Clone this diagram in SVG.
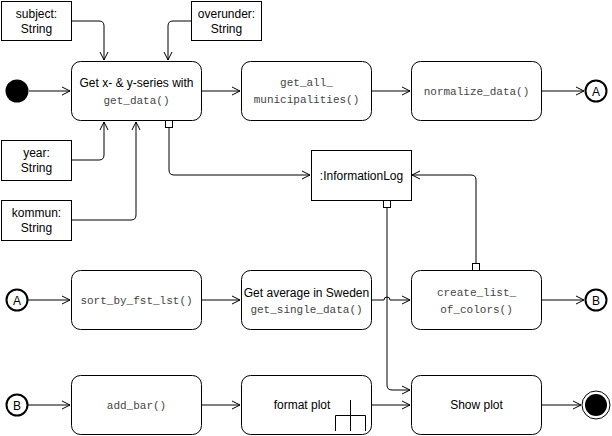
<svg xmlns="http://www.w3.org/2000/svg" width="612" height="436" viewBox="0 0 612 436">
<defs>
<style>
.box{fill:#fff;stroke:#000;stroke-width:1}
.t{font-family:"Liberation Sans",Arial,sans-serif;font-size:12px;fill:#000;text-anchor:middle}
.c{font-family:"Liberation Mono","Courier New",monospace;font-size:11px;fill:#444;text-anchor:middle}
.ct{font-family:"Liberation Sans",Arial,sans-serif;font-size:12px;fill:#000;text-anchor:middle}
.ln{fill:none;stroke:#000;stroke-width:1}
.port{fill:#fff;stroke:#000;stroke-width:1}
</style>
<marker id="arr" viewBox="0 0 10 10" refX="9" refY="5" markerWidth="10" markerHeight="10" markerUnits="userSpaceOnUse" orient="auto">
<path d="M1,1 L9,5 L1,9" fill="none" stroke="#000" stroke-width="1"/>
</marker>
</defs>
<rect width="612" height="436" fill="#fff"/>

<g id="connectors">
<path class="ln" d="M29,91 H70" marker-end="url(#arr)"/>
<path class="ln" d="M201,91 H240" marker-end="url(#arr)"/>
<path class="ln" d="M371,91 H410" marker-end="url(#arr)"/>
<path class="ln" d="M541,91 H584" marker-end="url(#arr)"/>
<path class="ln" d="M71,21 H99 Q104,21 104,26 V60" marker-end="url(#arr)"/>
<path class="ln" d="M191,21 H173 Q168,21 168,26 V60" marker-end="url(#arr)"/>
<path class="ln" d="M71,160 H99 Q104,160 104,155 V122" marker-end="url(#arr)"/>
<path class="ln" d="M71,220 H131 Q136,220 136,215 V122" marker-end="url(#arr)"/>
<path class="ln" d="M169,128 V170 Q169,175 174,175 H310" marker-end="url(#arr)"/>
<path class="ln" d="M476,263 V180 Q476,175 471,175 H412" marker-end="url(#arr)"/>
<path class="ln" d="M387,208 V385 Q387,390 392,390 H410" marker-end="url(#arr)"/>
<path class="ln" d="M28,300 H70" marker-end="url(#arr)"/>
<path class="ln" d="M201,300 H240" marker-end="url(#arr)"/>
<path class="ln" d="M371,300 H384 A3,3 0 0 1 390,300 H410" marker-end="url(#arr)"/>
<path class="ln" d="M541,300 H584" marker-end="url(#arr)"/>
<path class="ln" d="M28,405 H70" marker-end="url(#arr)"/>
<path class="ln" d="M201,405 H240" marker-end="url(#arr)"/>
<path class="ln" d="M371,405 H410" marker-end="url(#arr)"/>
<path class="ln" d="M541,405 H581" marker-end="url(#arr)"/>
</g>

<g id="start"><circle cx="17" cy="91" r="11.5" fill="#000"/></g>
<g id="subject"><rect class="box" x="1.5" y="1.5" width="70" height="39"/><text class="t" x="36.5" y="18">subject:</text><text class="t" x="36.5" y="33">String</text></g>
<g id="overunder"><rect class="box" x="191.5" y="1.5" width="70" height="39"/><text class="t" x="226.5" y="18">overunder:</text><text class="t" x="226.5" y="33">String</text></g>
<g id="year"><rect class="box" x="1.5" y="140.5" width="70" height="40"/><text class="t" x="36.5" y="157">year:</text><text class="t" x="36.5" y="172">String</text></g>
<g id="kommun"><rect class="box" x="1.5" y="200.5" width="70" height="40"/><text class="t" x="36.5" y="217">kommun:</text><text class="t" x="36.5" y="232">String</text></g>

<g id="get_data"><rect class="box" x="71.5" y="61.5" width="130" height="59" rx="9"/><text class="t" x="136.5" y="87">Get x- &amp; y-series with</text><text class="c" x="136.5" y="104">get_data()</text><rect class="port" x="165.5" y="120.5" width="7" height="7"/></g>
<g id="get_all"><rect class="box" x="241.5" y="61.5" width="130" height="59" rx="9"/><text class="c" x="306.5" y="86">get_all_</text><text class="c" x="306.5" y="103">municipalities()</text></g>
<g id="normalize"><rect class="box" x="411.5" y="61.5" width="130" height="59" rx="9"/><text class="c" x="476.5" y="95">normalize_data()</text></g>
<g id="A1"><circle cx="596" cy="91" r="10.5" fill="#fff" stroke="#000" stroke-width="2"/><text class="ct" x="596" y="95.5">A</text></g>

<g id="infolog"><rect class="box" x="311.5" y="150.5" width="100" height="50"/><text class="t" x="361.5" y="180">:InformationLog</text><rect class="port" x="383.5" y="200.5" width="7" height="7"/></g>

<g id="A2"><circle cx="17" cy="300" r="10.5" fill="#fff" stroke="#000" stroke-width="2"/><text class="ct" x="17" y="304.5">A</text></g>
<g id="sort"><rect class="box" x="71.5" y="270.5" width="130" height="59" rx="9"/><text class="c" x="136.5" y="304">sort_by_fst_lst()</text></g>
<g id="avg"><rect class="box" x="241.5" y="270.5" width="130" height="59" rx="9"/><text class="t" x="306.5" y="297">Get average in Sweden</text><text class="c" x="306.5" y="313">get_single_data()</text></g>
<g id="colors"><rect class="box" x="411.5" y="270.5" width="130" height="59" rx="9"/><text class="c" x="476.5" y="296">create_list_</text><text class="c" x="476.5" y="313">of_colors()</text><rect class="port" x="472.5" y="263.5" width="7" height="7"/></g>
<g id="B1"><circle cx="596" cy="300" r="10.5" fill="#fff" stroke="#000" stroke-width="2"/><text class="ct" x="596" y="304.5">B</text></g>

<g id="B2"><circle cx="17" cy="405" r="10.5" fill="#fff" stroke="#000" stroke-width="2"/><text class="ct" x="17" y="409.5">B</text></g>
<g id="add_bar"><rect class="box" x="71.5" y="375.5" width="130" height="59" rx="9"/><text class="c" x="136.5" y="409">add_bar()</text></g>
<g id="format"><rect class="box" x="241.5" y="375.5" width="130" height="59" rx="9"/><text class="t" x="302" y="409">format plot</text><path class="ln" d="M350.5,400 V431 M335.5,431 V415.5 H365.5 V431"/></g>
<g id="show"><rect class="box" x="411.5" y="375.5" width="130" height="59" rx="9"/><text class="t" x="476.5" y="409">Show plot</text></g>
<g id="end"><circle cx="596" cy="405" r="14" fill="#fff" stroke="#000" stroke-width="1"/><circle cx="596" cy="405" r="11" fill="#000"/></g>
</svg>
